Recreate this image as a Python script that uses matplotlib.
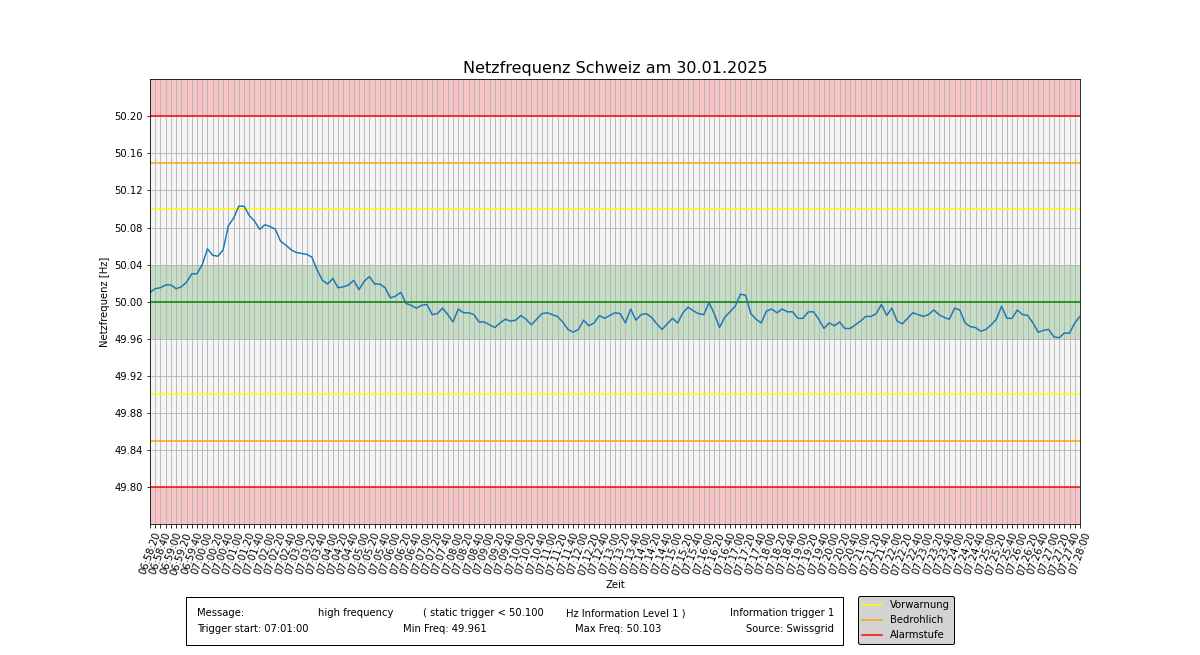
"""
Netzfrequenz Schweiz - Verlauf mit Warnstufen und Infobox.
"""

import matplotlib
matplotlib.use("Agg")
from matplotlib import pyplot as plt
from matplotlib.patches import Rectangle
import numpy as np
import pandas as pd

# Frequenzwerte alle 10 s, ab 06:58:20
freq = [
    50.010, 50.014, 50.015, 50.018, 50.018, 50.014, 50.016, 50.021, 50.030, 50.030,
    50.040, 50.057, 50.050, 50.049, 50.056, 50.082, 50.090, 50.103, 50.103, 50.093,
    50.087, 50.078, 50.083, 50.081, 50.078, 50.065, 50.061, 50.056, 50.053, 50.052,
    50.051, 50.048, 50.034, 50.023, 50.019, 50.025, 50.015, 50.016, 50.018, 50.023,
    50.013, 50.022, 50.027, 50.019, 50.019, 50.015, 50.004, 50.006, 50.010, 49.998,
    49.996, 49.993, 49.996, 49.997, 49.986, 49.987, 49.993, 49.986, 49.978, 49.992,
    49.988, 49.988, 49.986, 49.978, 49.978, 49.975, 49.972, 49.977, 49.981, 49.979,
    49.980, 49.985, 49.981, 49.975, 49.981, 49.987, 49.988, 49.986, 49.984, 49.978,
    49.970, 49.967, 49.970, 49.980, 49.974, 49.977, 49.985, 49.982, 49.985, 49.988,
    49.987, 49.977, 49.992, 49.980, 49.986, 49.987, 49.983, 49.976, 49.970, 49.976,
    49.982, 49.977, 49.988, 49.994, 49.990, 49.987, 49.986, 49.999, 49.987, 49.972,
    49.983, 49.989, 49.995, 50.008, 50.007, 49.987, 49.981, 49.977, 49.990, 49.992,
    49.988, 49.992, 49.989, 49.989, 49.982, 49.982, 49.989, 49.989, 49.981, 49.971,
    49.977, 49.974, 49.978, 49.971, 49.971, 49.975, 49.979, 49.984, 49.984, 49.987,
    49.997, 49.985, 49.993, 49.979, 49.976, 49.982, 49.988, 49.986, 49.984, 49.986,
    49.991, 49.986, 49.983, 49.981, 49.993, 49.991, 49.977, 49.973, 49.972, 49.968,
    49.970, 49.975, 49.981, 49.995, 49.982, 49.982, 49.991, 49.986, 49.985, 49.977,
    49.967, 49.969, 49.970, 49.962, 49.961, 49.966, 49.966, 49.977, 49.984,
]

times = pd.date_range("2025-01-30 06:58:20", periods=len(freq), freq="10s").strftime("%H:%M:%S")
tick_labels = [t if i % 2 == 0 else "" for i, t in enumerate(times)]

y_ticks = [49.80, 49.84, 49.88, 49.92, 49.96, 50.00, 50.04, 50.08, 50.12, 50.16, 50.20]

# Schwellen
nominal = 50.00
band = (49.96, 50.04)
warn_levels = [50.10, 49.90]
threat_levels = [50.15, 49.85]
alarm_levels = [50.20, 49.80]

row1 = ["Message:", "high frequency", "( static trigger < 50.100", "Hz Information Level 1 )", "Information trigger 1"]
row2 = ["Trigger start: 07:01:00", "Min Freq: 49.961", "Max Freq: 50.103", "Source: Swissgrid"]

fig, ax = plt.subplots(figsize=(1200 / 72, 655 / 72), dpi=72)
fig.subplots_adjust(left=0.125, right=0.9, top=0.879, bottom=0.2)
ax.set_facecolor("#f5f5f5")

x = np.arange(len(freq))

ax.axhspan(alarm_levels[0], 50.24, color="red", alpha=0.2, lw=0)
ax.axhspan(49.76, alarm_levels[1], color="red", alpha=0.2, lw=0)
ax.axhspan(band[0], band[1], color="green", alpha=0.2, lw=0)

for lv in warn_levels:
    l_warn = ax.axhline(lv, color="yellow", lw=1.5)
for lv in threat_levels:
    l_threat = ax.axhline(lv, color="orange", lw=1.5)
for lv in alarm_levels:
    l_alarm = ax.axhline(lv, color="red", lw=1.5)
ax.axhline(nominal, color="green", lw=1.5)

ax.plot(x, freq, color="#1f77b4", lw=1.5)

ax.set_xlim(0, len(freq) - 1)
ax.set_ylim(49.76, 50.24)
ax.set_xticks(x)
ax.set_xticklabels(tick_labels, rotation=70)
ax.set_yticks(y_ticks)
ax.set_yticklabels(["%.2f" % v for v in y_ticks])
ax.grid(True)

ax.set_title("Netzfrequenz Schweiz am 30.01.2025", fontsize=16)
ax.set_xlabel("Zeit")
ax.set_ylabel("Netzfrequenz [Hz]")

# Infobox unten
fig.patches.append(Rectangle((186 / 1200, 1 - 645 / 655), 657 / 1200, 48 / 655,
                             transform=fig.transFigure, fill=False, ec="black", lw=1))
y1 = 1 - 613 / 655
y2 = 1 - 629 / 655
for xp, txt in zip([197, 318, 423, 566], row1[:4]):
    fig.text(xp / 1200, y1, txt, va="center", ha="left")
fig.text(834 / 1200, y1, row1[4], va="center", ha="right")
for xp, txt in zip([197, 403, 575], row2[:3]):
    fig.text(xp / 1200, y2, txt, va="center", ha="left")
fig.text(834 / 1200, y2, row2[3], va="center", ha="right")

leg = fig.legend([l_warn, l_threat, l_alarm], ["Vorwarnung", "Bedrohlich", "Alarmstufe"],
                 loc="upper left", bbox_to_anchor=(858 / 1200, 1 - 596 / 655),
                 borderaxespad=0, facecolor="lightgray", edgecolor="black", framealpha=1)

fig.savefig("out.png", dpi=72)
